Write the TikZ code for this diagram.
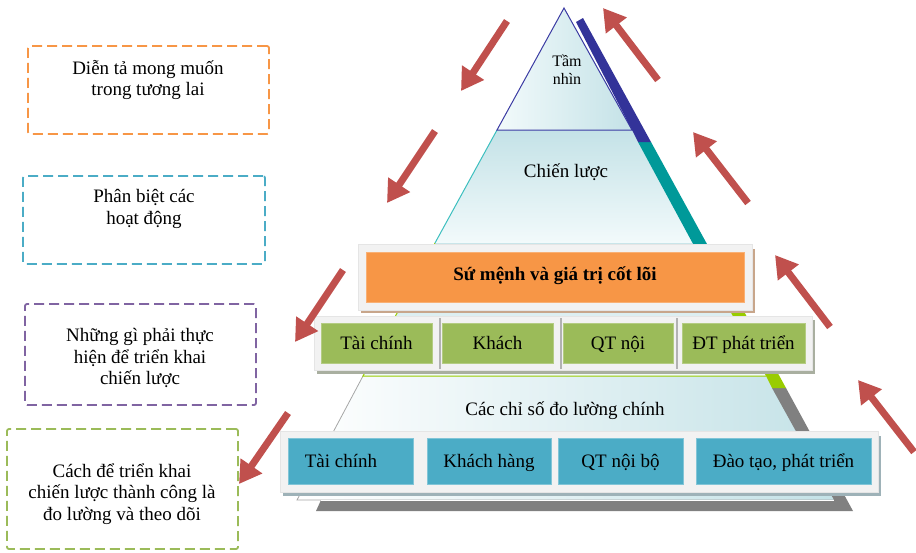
\documentclass[tikz,border=0pt]{standalone}
\usepackage{fontspec}
\setmainfont{Liberation Serif}
\usetikzlibrary{arrows.meta}

\definecolor{arrowred}{HTML}{C0504D}
\definecolor{boxorange}{HTML}{F79646}
\definecolor{boxgreen}{HTML}{9BBB59}
\definecolor{boxblue}{HTML}{4BACC6}
\definecolor{boxpurple}{HTML}{8064A2}
\definecolor{banddark}{HTML}{333399}
\definecolor{bandteal}{HTML}{009999}
\definecolor{bandlime}{HTML}{99CC00}
\definecolor{bandgray}{HTML}{808080}
\definecolor{framegray}{HTML}{F2F2F2}
\definecolor{paleA}{HTML}{F2FAFB}
\definecolor{paleB}{HTML}{C4E2E7}
\definecolor{edgeblue}{HTML}{3B3BA3}
\definecolor{edgeteal}{HTML}{3CBFBF}
\definecolor{shadetan}{HTML}{C8A68B}
\definecolor{shadegreen}{HTML}{A9AFA0}
\definecolor{shadeblue}{HTML}{9EB2B8}

\begin{document}
\begin{tikzpicture}[x=1pt,y=-1pt,
  every node/.style={inner sep=0pt, outer sep=0pt},
  lbl/.style={font={\fontsize{19}{21.5}\selectfont}, align=center, text=black},
  oneline/.style={text height=17pt, text depth=5pt},
  smalllbl/.style={font={\fontsize{16}{18}\selectfont}, align=center, text=black},
  notebox/.style={draw=#1, line width=1.8pt, dash pattern=on 10pt off 5pt, rounded corners=2pt},
  frame/.style={fill=framegray, draw=white!90!black, line width=0.5pt},
  greenbox/.style={fill=boxgreen, draw=boxgreen!75!white, line width=0.8pt, minimum height=40pt},
  bluebox/.style={fill=boxblue, draw=boxblue!70!white, line width=0.8pt, minimum height=46pt},
  redarrow/.style={draw=arrowred, line width=7pt, -{Triangle[length=22pt,width=25pt]}}
]
\useasboundingbox (0,0) rectangle (916,552);

% ---------- pyramid tiers (back to front) ----------
% tier 4: key indicators
\shade[left color=white, right color=paleB] (363,376) -- (766,376) -- (834,500) -- (297,500) -- cycle;
\draw[gray!70, line width=0.8pt] (363,376) -- (297,500) -- (834,500);
% side and base of tier 4
\fill[bandgray] (772,388) -- (786,388) -- (853,511) -- (316,511) -- (321,500) -- (834,500) -- cycle;
\draw[white, line width=0.8pt] (321,500) -- (834,500);

% tier 3: core values (mostly covered)
\shade[top color=paleB, bottom color=paleA] (435,243) -- (692,243) -- (766,376) -- (363,376) -- cycle;
\draw[bandlime, line width=1pt] (435,243) -- (363,376) -- (766,376);
\fill[bandlime] (699,255) -- (713,255) -- (786,388) -- (772,388) -- (766,376) -- cycle;

% tier 2: strategy
\shade[top color=paleB, bottom color=paleA] (497,130) -- (632,130) -- (692,243) -- (435,243) -- cycle;
\draw[edgeteal, line width=1pt] (497,130) -- (435,243);
\fill[bandteal] (638,142) -- (651,142) -- (713,255) -- (699,255) -- cycle;

% tier 1: vision
\shade[left color=paleA, right color=paleB] (564,8) -- (632,130) -- (497,130) -- cycle;
\draw[edgeblue, line width=1pt] (564,8) -- (632,130) -- (497,130) -- cycle;
\fill[banddark] (576,22) -- (583,18) -- (651,142) -- (638,142) -- (632,130) -- cycle;

\node[smalllbl] (vision) at (567,70) {Tầm\\nhìn};
\node[lbl] (strategy) at (566,172) {Chiến lược};
\node[lbl] (kpi) at (565,411) {Các chỉ số đo lường chính};

% ---------- mission bar ----------
\fill[shadetan] (361,249) rectangle (755,313);
\draw[frame] (358,244) rectangle (752,310);
\node[fill=boxorange, draw=boxorange!75!white, line width=0.8pt,
      minimum width=378pt, minimum height=50pt, text height=11pt, text depth=5pt,
      font={\fontsize{19}{21.5}\selectfont\bfseries}] (mission) at (555,277)
      {Sứ mệnh và giá trị cốt lõi};

% ---------- perspectives row ----------
\fill[shadegreen] (317,320) rectangle (815,374);
\draw[frame] (314,316) rectangle (812,370);
\foreach \xx in {440,561,677}
  \draw[gray!60, line width=1.2pt] (\xx,318) -- (\xx,369);
\node[greenbox, lbl, oneline, minimum width=111pt] (g1) at (376.5,343) {Tài chính};
\node[greenbox, lbl, oneline, minimum width=111pt] (g2) at (497.5,343) {Khách};
\node[greenbox, lbl, oneline, minimum width=110pt] (g3) at (618,343) {QT nội};
\node[greenbox, lbl, oneline, minimum width=123pt] (g4) at (743.5,343) {ĐT phát triển};

% ---------- indicator row ----------
\fill[shadeblue] (283,436) rectangle (881,496);
\draw[frame] (280,431) rectangle (878,492);
\node[bluebox, minimum width=125pt] (b1) at (350.5,461) {};
\node[lbl, oneline] (b1t) at (341,461) {Tài chính};
\node[bluebox, lbl, oneline, minimum width=124pt] (b2) at (489,461) {Khách hàng};
\node[bluebox, lbl, oneline, minimum width=125pt] (b3) at (620.5,461) {QT nội bộ};
\node[bluebox, lbl, oneline, minimum width=175pt] (b4) at (783.5,461) {Đào tạo, phát triển};

% ---------- side notes ----------
\node[notebox=boxorange, minimum width=241pt, minimum height=88pt] (n1) at (148.5,90) {};
\node[lbl] (n1t) at (148,80) {Diễn tả mong muốn\\trong tương lai};
\node[notebox=boxblue, minimum width=242pt, minimum height=88pt] (n2) at (144,220) {};
\node[lbl] (n2t) at (144,209) {Phân biệt các\\hoạt động};
\node[notebox=boxpurple, minimum width=231pt, minimum height=101pt] (n3) at (140.5,354.5) {};
\node[lbl] (n3t) at (140,358) {Những gì phải thực\\hiện để triển khai\\chiến lược};
\node[notebox=boxgreen, minimum width=231pt, minimum height=120pt] (n4) at (122.5,489) {};
\node[lbl] (n4t) at (122,494) {Cách để triển khai\\chiến lược thành công là\\đo lường và theo dõi};

% ---------- flow arrows ----------
\coordinate (d1s) at (507,21);  \coordinate (d1e) at (461,91);
\coordinate (d2s) at (435,131); \coordinate (d2e) at (387,203);
\coordinate (d3s) at (343,270); \coordinate (d3e) at (295,342);
\coordinate (d4s) at (288,413); \coordinate (d4e) at (239,484);
\coordinate (u1s) at (658,80);  \coordinate (u1e) at (603,8);
\coordinate (u2s) at (748,203); \coordinate (u2e) at (693,132);
\coordinate (u3s) at (830,327); \coordinate (u3e) at (775,255);
\coordinate (u4s) at (914,452); \coordinate (u4e) at (858,380);
\foreach \a in {d1,d2,d3,d4,u1,u2,u3,u4}
  \draw[redarrow] (\a s) -- (\a e);
\end{tikzpicture}
\end{document}
